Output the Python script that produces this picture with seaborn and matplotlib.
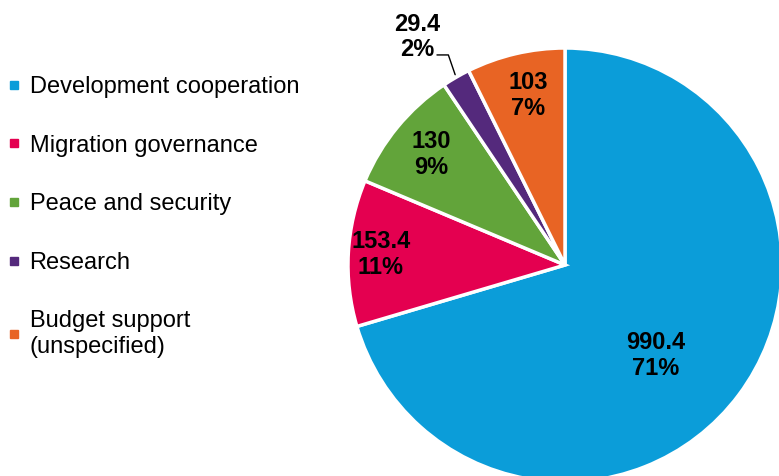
"""
Pie chart of funding by sector, with a square-marker legend on the left.
"""

import numpy as np
import matplotlib
matplotlib.use('Agg')
import matplotlib.pyplot as plt
from matplotlib.lines import Line2D
import seaborn as sns

# data
categories = ['Development cooperation', 'Migration governance', 'Peace and security',
              'Research', 'Budget support\n(unspecified)']
values = [990.4, 153.4, 130, 29.4, 103]
value_labels = ['990.4', '153.4', '130', '29.4', '103']
pct_labels = ['71%', '11%', '9%', '2%', '7%']
colors = ['#0b9dd9', '#e40050', '#62a43a', '#54297c', '#e86424']

sns.set_theme(style='white')
plt.rcParams['font.family'] = ['Liberation Sans', 'DejaVu Sans']
plt.rcParams['text.color'] = 'black'

fig = plt.figure(figsize=(7.79, 4.76), dpi=100)
W, H = 779, 476
cx, cy, r = 565, 265, 217
ax = fig.add_axes([(cx - r) / W, (H - cy - r) / H, 2 * r / W, 2 * r / H])

wedges, _ = ax.pie(values, colors=colors, startangle=90, counterclock=False,
                   wedgeprops=dict(edgecolor='white', linewidth=2.5))
ax.set_xlim(-1, 1)
ax.set_ylim(-1, 1)
ax.set_aspect('equal')
ax.axis('off')

# label placement (radius, angle nudge in degrees) per wedge
label_r = [0.59, 0.85, 0.80, None, 0.80]
label_nudge = [-8, 0, 0, 0, -1]
for w, vl, pl, lr, nd in zip(wedges, value_labels, pct_labels, label_r, label_nudge):
    mid = np.deg2rad((w.theta1 + w.theta2) / 2 + nd)
    txt = f'{vl}\n{pl}'
    if lr is None:
        # small slice: label outside with an elbow leader line
        ax.text(-0.68, 1.05, txt, ha='center', va='center', fontsize=17,
                fontweight='bold', color='black', linespacing=1.15, clip_on=False)
        ax.annotate('', xy=(np.cos(mid), np.sin(mid)), xytext=(-0.59, 0.968),
                    annotation_clip=False,
                    arrowprops=dict(arrowstyle='-', color='black', lw=1,
                                    shrinkA=0, shrinkB=2,
                                    connectionstyle='angle,angleA=0,angleB=109,rad=0'))
    else:
        ax.text(lr * np.cos(mid), lr * np.sin(mid), txt, ha='center', va='center',
                fontsize=17, fontweight='bold', color='black', linespacing=1.15)

handles = [Line2D([], [], marker='s', linestyle='none', markersize=6,
                  markerfacecolor=c, markeredgecolor=c) for c in colors]
leg = fig.legend(handles, categories, loc='upper left', bbox_to_anchor=(0.0, 0.855),
                 frameon=False, fontsize=17, labelspacing=1.55, handlelength=0.6,
                 handletextpad=0.35, borderaxespad=0, borderpad=0.3)
for t in leg.get_texts():
    t.set_color('black')

fig.savefig('out.png', dpi=100)
